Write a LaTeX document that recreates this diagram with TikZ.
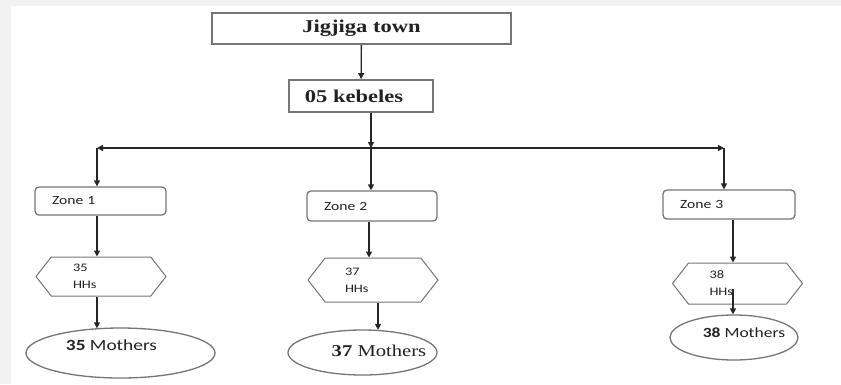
\documentclass[tikz,border=0pt]{standalone}
\usepackage{fontspec}
\usetikzlibrary{arrows.meta,shapes.symbols,shapes.geometric}
\setmainfont{Liberation Serif}[FakeStretch=1.25]
\newfontfamily\calib{Carlito}[FakeStretch=1.25]
\definecolor{pagegray}{HTML}{F2F2F2}
\definecolor{edgegray}{HTML}{767676}
\definecolor{inkline}{HTML}{262626}
\definecolor{inktext}{HTML}{222222}

\tikzset{every picture/.style={line width=1.3pt}}
\tikzset{
  topbox/.style={draw=edgegray, line width=1.8pt, inner sep=0, text=inktext, font=\fontsize{18}{20}\selectfont\bfseries},
  zonebox/.style={draw=edgegray, rounded corners=4pt, inner sep=0, minimum height=28, text=inktext, font=\calib\fontsize{12.5}{14}\selectfont, align=left},
  hhbox/.style={draw=edgegray, line width=1pt, shape=signal, signal to=east and west, signal pointer angle=104, inner sep=0, minimum width=130, minimum height=40, text width=56, align=left, text=inktext, font=\calib\fontsize{11.5}{17}\selectfont},
  mombox/.style={draw=edgegray, shape=ellipse, inner sep=0},
  arr/.style={draw=inkline, -{Triangle[length=6pt,width=6pt]}}
}

\begin{document}
\begin{tikzpicture}[x=1pt,y=1pt,yscale=-1]
	% page
	\fill[pagegray] (0,0) rectangle (841,384);
	\fill[white] (11,6) rectangle (841,384);

	% top levels
	\node[topbox, minimum width=299, minimum height=31] (town) at (361.5,28.5) {Jigjiga town};
	\node[topbox, minimum width=144, minimum height=32] (kebele) at (361,96) {\hspace*{-14pt}05 kebeles};

	% branching points
	\coordinate (split) at (371,148);
	\coordinate (lcorn) at (97,148);
	\coordinate (rcorn) at (724,148);

	% zones
	\node[zonebox, minimum width=131, text width=97] (zone1) at (100.5,201) {Zone 1};
	\node[zonebox, minimum width=130, minimum height=30, text width=96] (zone2) at (372,206) {Zone 2};
	\node[zonebox, minimum width=132, minimum height=29, text width=98] (zone3) at (729,204.5) {Zone 3};

	% households
	\node[hhbox, minimum height=39] (hh1) at (101,276.5) {35\\HHs};
	\node[hhbox, minimum height=44] (hh2) at (373,280) {37\\HHs};
	\node[hhbox, minimum height=41] (hh3) at (737.5,283.5) {38\\HHs};

	% mothers
	\node[mombox, minimum width=189, minimum height=50] (mom1) at (120.5,353) {};
	\node[mombox, minimum width=149, minimum height=45] (mom2) at (362.5,352.5) {};
	\node[mombox, minimum width=128, minimum height=45] (mom3) at (734,337.5) {};

	% Text Node
	\node[text=inktext, font=\calib\fontsize{15.5}{17}\selectfont] (momtext1) at (111.5,345) {\textbf{35} Mothers};
	% Text Node
	\node[text=inktext, font=\fontsize{16.5}{18}\selectfont] (momtext2) at (379,351) {\textbf{37} Mothers};
	% Text Node
	\node[text=inktext, font=\calib\fontsize{14}{16}\selectfont] (momtext3) at (744,333) {\textbf{38} Mothers};

	% connectors
	\draw[arr] (town) -- (kebele);
	\draw[arr] (split |- kebele.south) -- (split);
	\draw[arr] (split) -- (split |- zone2.north);
	\draw[arr] (split) -- (lcorn);
	\draw[arr] (split) -- (rcorn);
	\draw[arr] (lcorn) -- (lcorn |- zone1.north);
	\draw[arr] (rcorn) -- (rcorn |- zone3.north);

	\draw[arr] (lcorn |- zone1.south) -- (lcorn |- hh1.north);
	\draw[arr] ([xshift=-2]split |- zone2.south) -- ([xshift=-2]split |- hh2.north);
	\draw[arr] ([xshift=4]zone3.south) -- ([xshift=4]zone3.south |- hh3.north);

	\draw[arr] (lcorn |- hh1.south) -- ([yshift=1]lcorn |- mom1.north);
	\draw[arr] ([xshift=5]hh2.south) -- ([xshift=5,yshift=0.5]hh2.south |- mom2.north);
	\coordinate (hh3low) at (733,289);
	\draw[arr] (hh3low) -- (hh3low |- mom3.north);

\end{tikzpicture}
\end{document}
